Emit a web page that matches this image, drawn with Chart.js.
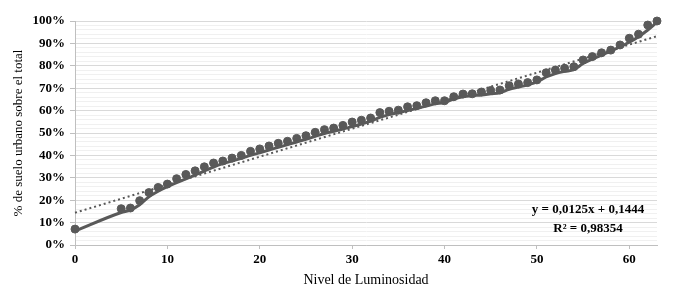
<!DOCTYPE html>
<html>
<head>
<meta charset="utf-8">
<script src="https://cdn.jsdelivr.net/npm/chart.js@4.4.1/dist/chart.umd.min.js"></script>
<style>
  html, body { margin: 0; padding: 0; background: #fff; }
  #wrap { width: 679px; height: 297px; }
</style>
</head>
<body>
<div id="wrap"><canvas id="chart"></canvas></div>
<script>
// nivel de luminosidad (x) y % acumulado de suelo urbano
const levels = [0, 5, 6, 7, 8, 9, 10, 11, 12, 13, 14, 15, 16, 17, 18, 19, 20, 21, 22, 23,
  24, 25, 26, 27, 28, 29, 30, 31, 32, 33, 34, 35, 36, 37, 38, 39, 40, 41, 42, 43,
  44, 45, 46, 47, 48, 49, 50, 51, 52, 53, 54, 55, 56, 57, 58, 59, 60, 61, 62, 63];
const shares = [7.1, 16.2, 16.5, 19.8, 23.4, 25.7, 27.2, 29.6, 31.5, 33.1, 34.9, 36.6, 37.5, 38.8, 40.0, 41.8, 42.9, 44.2, 45.4, 46.3,
  47.6, 48.8, 50.3, 51.5, 52.2, 53.4, 54.9, 55.7, 56.7, 59.1, 59.7, 60.2, 61.7, 62.2, 63.5, 64.4, 64.4, 66.2, 67.4, 67.5,
  68.3, 69.0, 69.2, 71.1, 71.9, 72.5, 73.7, 76.9, 78.1, 78.9, 79.6, 82.6, 84.1, 85.8, 87.0, 89.3, 92.3, 94.1, 98.2, 100];
const smoothed = [6.2, 14.5, 15.6, 18.0, 21.5, 24.0, 26.0, 27.8, 29.5, 31.2, 33.0, 34.8, 36.3, 37.5, 38.7, 40.0, 41.2, 42.4, 43.6, 44.8,
  46.0, 47.2, 48.5, 49.8, 50.8, 51.8, 52.9, 54.0, 55.3, 57.0, 58.2, 59.1, 60.0, 61.0, 62.0, 63.0, 63.6, 65.2, 66.2, 66.7,
  67.0, 67.5, 68.0, 69.5, 70.5, 71.5, 72.8, 75.0, 76.5, 77.5, 78.3, 81.0, 83.0, 84.8, 86.5, 88.5, 90.5, 93.0, 96.0, 99.5];
const trendX = [0, 63];
const trendY = [14.4, 93.2];
const equation = ["y = 0,0125x + 0,1444", "R² = 0,98354"];

const serif = "'Liberation Serif', 'DejaVu Serif', serif";
const grey = "#595959";

const eqLabel = {
  id: "eqLabel",
  afterDatasetsDraw(chart) {
    const { ctx, chartArea } = chart;
    ctx.save();
    ctx.font = "bold 13px " + serif;
    ctx.fillStyle = "#000";
    ctx.textAlign = "center";
    ctx.textBaseline = "middle";
    ctx.fillText(equation[0], chartArea.right - 69, chartArea.bottom - 35);
    ctx.fillText(equation[1], chartArea.right - 69, chartArea.bottom - 16);
    ctx.restore();
  }
};

new Chart(document.getElementById("chart"), {
  type: "scatter",
  data: {
    datasets: [
      {
        type: "line",
        data: levels.map((x, i) => ({ x, y: smoothed[i] })),
        borderColor: grey,
        borderWidth: 3,
        pointRadius: 0,
        cubicInterpolationMode: "monotone",
        clip: false,
      },
      {
        data: levels.map((x, i) => ({ x, y: shares[i] })),
        backgroundColor: grey,
        borderColor: grey,
        pointRadius: 4,
        clip: false,
      },
      {
        type: "line",
        data: trendX.map((x, i) => ({ x, y: trendY[i] })),
        borderColor: grey,
        borderWidth: 2,
        borderDash: [2, 3],
        pointRadius: 0,
        clip: false,
      },
    ],
  },
  options: {
    responsive: true,
    maintainAspectRatio: false,
    animation: false,
    layout: { padding: { top: 21, right: 22, left: 7, bottom: 4 } },
    plugins: { legend: { display: false }, tooltip: { enabled: false } },
    scales: {
      x: {
        type: "linear",
        min: 0,
        max: 63,
        afterFit: s => { s.height = 48; },
        ticks: {
          stepSize: 10,
          includeBounds: false,
          autoSkip: false,
          maxRotation: 0,
          padding: 3,
          color: "#000",
          font: { family: serif, size: 13, weight: "bold" },
        },
        grid: { drawOnChartArea: false, tickLength: 4, color: "#bfbfbf" },
        border: { color: "#bfbfbf" },
        title: {
          display: true,
          text: "Nivel de Luminosidad",
          color: "#000",
          font: { family: serif, size: 14 },
          padding: { top: 9 },
        },
      },
      y: {
        min: 0,
        max: 100,
        afterFit: s => { s.width = 68; },
        ticks: {
          stepSize: 2,
          maxTicksLimit: 60,
          autoSkip: false,
          padding: 5,
          color: "#000",
          font: { family: serif, size: 13, weight: "bold" },
          callback: v => (v % 10 === 0 ? v + "%" : ""),
        },
        grid: {
          tickLength: 5,
          color: c => (c.tick && c.tick.value % 10 === 0 ? "#d9d9d9" : "#f0f0f0"),
          tickColor: c => (c.tick && c.tick.value % 10 === 0 ? "#bfbfbf" : "rgba(0,0,0,0)"),
        },
        border: { color: "#bfbfbf" },
        title: {
          display: true,
          text: "% de suelo urbano sobre el total",
          color: "#000",
          font: { family: serif, size: 13 },
          padding: { bottom: 4 },
        },
      },
    },
  },
  plugins: [eqLabel],
});
</script>
</body>
</html>
